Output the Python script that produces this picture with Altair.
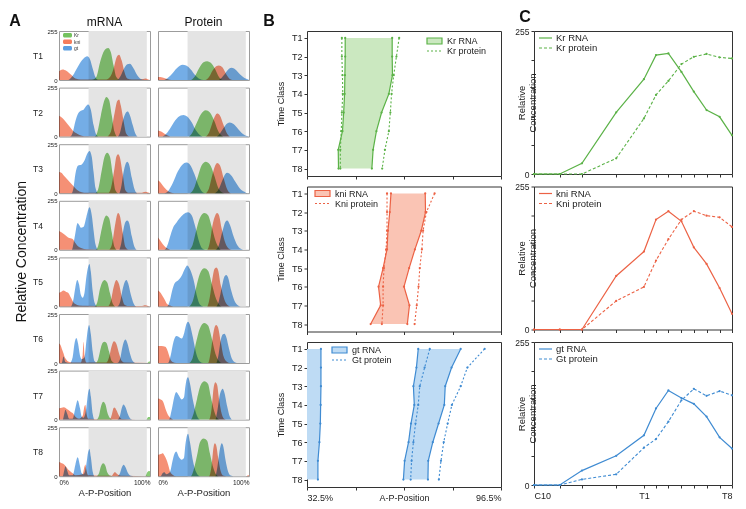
import altair as alt
import pandas as pd

FONT = "Liberation Sans"

# ---------------- Panel A: profiles (A-P position %, relative concentration 0-255)
KR_MRNA = {
 "T1": [(0,0),(36,0),(41,15),(45,90),(50,155),(54,167),(57,145),(60,75),(63,15),(67,0),(100,0)],
 "T2": [(0,0),(39,0),(42,20),(46,110),(50,190),(52,206),(55,190),(58,110),(61,25),(64,0),(100,0)],
 "T3": [(0,0),(40,0),(43,20),(47,120),(50,190),(53,211),(56,190),(59,100),(62,15),(65,0),(100,0)],
 "T4": [(0,0),(40,0),(43,20),(47,110),(50,165),(52,179),(55,165),(58,90),(61,15),(64,0),(100,0)],
 "T5": [(0,0),(39,0),(42,20),(45,90),(48,130),(50,138),(53,125),(56,70),(59,15),(62,0),(100,0)],
 "T6": [(0,0),(40,0),(43,20),(46,80),(48,105),(50,110),(52,105),(55,60),(58,10),(61,0),(97,0),(99,8),(100,8)],
 "T7": [(0,0),(41,0),(44,20),(46,65),(48.5,93),(51,80),(53,40),(56,8),(59,0),(96,0),(98,14),(100,14)],
 "T8": [(0,0),(41,0),(44,15),(46,50),(48.5,68),(51,55),(53,20),(56,3),(59,0),(95,0),(97,20),(99,27),(100,25)],
}
KNI_MRNA = {
 "T1": [(0,45),(4,55),(8,48),(13,28),(18,8),(24,2),(52,2),(56,15),(60,60),(63,115),(66,132),(69,100),(72,40),(75,8),(80,2),(90,3),(95,8),(98,3),(100,0)],
 "T2": [(0,108),(4,95),(8,74),(12,50),(15,32),(20,15),(25,5),(30,2),(53,2),(57,25),(61,120),(64,185),(66,193),(68,160),(71,80),(74,15),(77,2),(100,0)],
 "T3": [(0,110),(3,105),(5,93),(8,78),(10,68),(15,42),(20,17),(25,5),(30,2),(54,2),(57,25),(61,130),(63,190),(65,203),(67,185),(70,100),(73,15),(76,2),(90,2),(95,8),(98,3),(100,0)],
 "T4": [(0,98),(3,90),(6,80),(10,64),(15,56),(18,35),(20,22),(25,8),(30,3),(55,2),(58,25),(62,140),(64,185),(65,191),(67,175),(70,90),(73,15),(76,2),(100,0)],
 "T5": [(0,71),(3,78),(5,83),(8,75),(10,71),(13,46),(16,20),(18,12),(22,5),(30,3),(54,2),(57,30),(60,100),(63,138),(66,115),(69,50),(72,8),(75,2),(90,2),(95,6),(98,2),(100,0)],
 "T6": [(0,101),(2,90),(3,76),(5,50),(6,34),(8,18),(10,8),(15,3),(24,3),(26,40),(27,110),(28,40),(30,3),(52,3),(55,30),(58,90),(60.5,113),(63,100),(66,50),(69,10),(72,2),(100,0)],
 "T7": [(0,59),(3,62),(5,64),(8,58),(10,51),(13,40),(15,34),(18,15),(22,5),(26,20),(28,70),(29,76),(30,40),(32,5),(56,2),(58,25),(60,60),(61,63),(63,50),(66,20),(69,3),(100,0)],
 "T8": [(0,74),(3,68),(5,64),(8,48),(10,35),(12,27),(15,15),(18,5),(26,10),(28,50),(29,61),(30,35),(32,5),(58,2),(60,15),(61.5,22),(63,15),(66,5),(70,2),(100,0)],
}
GT_MRNA = {
 "T1": [(0,0),(10,0),(14,15),(19,55),(24,95),(29,120),(31,123),(34,108),(37,60),(40,15),(43,0),(64,0),(67,15),(71,55),(75,82),(78,85),(82,60),(86,25),(90,5),(94,0),(100,0)],
 "T2": [(0,0),(12,0),(15,20),(18,80),(21,120),(24,135),(27,140),(30,160),(32,167),(35,140),(38,60),(41,10),(44,0),(64,0),(67,20),(70,80),(73,120),(75.5,130),(78,110),(81,60),(84,15),(87,0),(100,0)],
 "T3": [(0,0),(14,0),(16,30),(18,100),(21,144),(25,150),(28,170),(31,205),(33.5,220),(36,190),(38,110),(40,30),(43,0),(66,0),(68,25),(71,110),(73,150),(75,164),(77,150),(80,80),(83,20),(86,0),(100,0)],
 "T4": [(0,0),(14,0),(17,60),(20.5,140),(22,130),(24,115),(27,120),(30,170),(33.5,221),(36,180),(38,100),(40,30),(43,0),(66,0),(68,25),(71,110),(73,145),(75,152),(77,140),(80,70),(83,15),(86,0),(100,0)],
 "T5": [(0,0),(13,0),(16,40),(18,100),(20,138),(22,115),(24,60),(26,45),(28,70),(30,150),(32,205),(33.5,220),(35,180),(37,80),(39,20),(42,0),(64,0),(67,20),(70,90),(72,125),(74,138),(76,120),(79,60),(82,15),(85,0),(100,0)],
 "T6": [(0,0),(3,0),(5,34),(7,5),(12,0),(15,30),(17,100),(19,130),(21,100),(23,40),(25,20),(28,30),(30,110),(31.5,170),(33,198),(35,150),(37,60),(39,10),(42,0),(64,0),(67,20),(70,90),(72,118),(73,122),(75,105),(78,50),(81,10),(84,0),(100,0)],
 "T7": [(0,0),(4,0),(6,35),(7,51),(9,30),(11,5),(15,5),(18,60),(20.5,101),(23,60),(25,15),(27,10),(30,60),(32,140),(33.5,160),(35,120),(37,30),(39,0),(64,0),(67,20),(69,60),(71,79),(73,65),(76,25),(79,3),(82,0),(100,0)],
 "T8": [(0,0),(4,0),(6,35),(7,52),(9,30),(11,5),(15,5),(18,60),(20.5,98),(23,55),(25,15),(27,10),(30,60),(32,125),(33.5,142),(35,100),(37,25),(39,0),(64,0),(67,15),(69,45),(71,60),(73,48),(76,15),(79,2),(82,0),(100,0)],
}
KR_PROT = {
 "T1": [(0,0),(36,0),(40,15),(45,60),(50,92),(54,98),(58,90),(63,55),(67,15),(71,0),(100,0)],
 "T2": [(0,0),(33,0),(37,15),(42,65),(47,115),(52.5,137),(57,125),(62,80),(66,30),(70,5),(73,0),(100,0)],
 "T3": [(0,0),(35,0),(39,20),(44,90),(48,145),(52.5,164),(57,150),(62,90),(66,30),(70,5),(73,0),(100,0)],
 "T4": [(0,0),(34,0),(38,25),(42,100),(46,165),(51,191),(55,180),(59,120),(63,50),(67,10),(70,0),(100,0)],
 "T5": [(0,0),(34,0),(38,25),(42,100),(46,170),(51,198),(55,185),(59,120),(63,50),(67,10),(70,0),(100,0)],
 "T6": [(0,0),(34,0),(38,25),(42,110),(46,180),(51,208),(55,195),(59,130),(63,50),(67,10),(70,0),(100,0)],
 "T7": [(0,0),(36,0),(39,30),(43,110),(47,180),(51,199),(55,185),(58,120),(62,40),(65,8),(68,0),(100,0)],
 "T8": [(0,0),(36,0),(39,30),(43,110),(46,175),(50,196),(54,185),(57,120),(61,40),(64,8),(67,0),(100,0)],
}
KNI_PROT = {
 "T1": [(0,15),(5,13),(10,5),(15,0),(52,0),(56,15),(60,50),(64,72),(67,76),(71,65),(75,30),(79,5),(82,0),(100,0)],
 "T2": [(0,32),(4,25),(8,12),(12,3),(15,0),(52,0),(56,20),(60,75),(63,110),(65,120),(68,110),(72,60),(76,15),(80,0),(100,0)],
 "T3": [(0,68),(3,55),(5,42),(8,25),(10,15),(14,3),(18,0),(52,0),(56,25),(60,100),(63,145),(65,157),(68,145),(72,80),(76,20),(80,0),(100,0)],
 "T4": [(0,64),(3,45),(6,25),(8,14),(12,3),(15,0),(54,0),(57,40),(60,130),(63,180),(65,191),(67,180),(70,110),(74,35),(78,5),(81,0),(100,0)],
 "T5": [(0,83),(3,70),(5,54),(8,30),(10,12),(14,3),(17,0),(54,0),(57,50),(60,150),(62,195),(64,203),(66,190),(69,110),(73,35),(77,5),(80,0),(100,0)],
 "T6": [(0,88),(4,88),(8,84),(10,70),(12,42),(14,15),(16,5),(20,0),(55,0),(58,60),(61,160),(63,195),(64,198),(66,185),(69,110),(72,35),(76,5),(79,0),(100,0)],
 "T7": [(0,110),(3,105),(5,98),(7,75),(8,59),(10,35),(12,17),(15,5),(18,0),(56,0),(59,60),(61,160),(63,194),(65,180),(67,110),(70,30),(73,3),(76,0),(100,0)],
 "T8": [(0,111),(3,115),(5,120),(8,100),(10,78),(12,45),(13,27),(16,8),(20,0),(56,0),(59,60),(61,150),(62.5,171),(64,160),(66,100),(69,25),(72,2),(75,0),(97,0),(99,5),(100,5)],
}
GT_PROT = {
 "T1": [(0,0),(6,0),(10,8),(15,30),(21,62),(27,79),(31,75),(36,55),(41,25),(46,5),(50,0),(66,0),(69,8),(74,35),(78,58),(81,64),(85,55),(90,30),(95,10),(99,2),(100,0)],
 "T2": [(0,0),(4,0),(8,10),(13,40),(19,85),(25,110),(28,113),(32,105),(37,75),(42,30),(47,5),(51,0),(64,0),(67,10),(72,45),(76,68),(79,74),(83,65),(88,40),(93,15),(98,3),(100,0)],
 "T3": [(0,0),(7,0),(11,10),(16,50),(22,115),(27,150),(31,160),(35,150),(40,100),(45,35),(49,5),(52,0),(62,0),(66,15),(71,70),(74,100),(76,106),(80,95),(85,60),(90,25),(95,7),(98,0),(100,0)],
 "T4": [(0,0),(7,0),(10,20),(14,80),(17,120),(20,140),(24,165),(28,185),(33,196),(37,180),(41,120),(45,45),(49,5),(52,0),(63,0),(67,25),(71,100),(74,145),(76,152),(79,130),(83,70),(87,25),(91,5),(94,0),(100,0)],
 "T5": [(0,0),(10,0),(13,30),(16,90),(18.5,122),(22,135),(26,160),(30,200),(32,213),(35,195),(39,140),(43,50),(46,10),(50,0),(64,0),(67,30),(71,120),(73,155),(75,164),(77,150),(80,90),(84,30),(88,5),(91,0),(100,0)],
 "T6": [(0,0),(11,0),(14,40),(17,110),(20,140),(23,135),(26,127),(29,160),(31,200),(33,215),(35,200),(38,140),(42,50),(46,8),(50,0),(64,0),(66,30),(69,120),(71,148),(73,152),(75,135),(78,75),(81,25),(85,3),(88,0),(100,0)],
 "T7": [(0,0),(12,0),(15,50),(18,120),(20,144),(23,125),(26,105),(28.5,115),(30,170),(31.5,210),(33,220),(35,190),(38,110),(42,30),(46,0),(63,0),(65,40),(68,130),(70,155),(71,160),(73,140),(76,70),(79,15),(82,0),(100,0)],
 "T8": [(0,0),(3,0),(5,15),(7,20),(9,10),(13,20),(16,80),(18,115),(20,128),(23,100),(26,86),(28.5,95),(30,160),(31.5,205),(33,221),(35,180),(38,90),(42,20),(46,0),(63,0),(65,40),(68,140),(70,171),(72,150),(74,90),(77,25),(80,3),(83,0),(100,0)],
}
SHADE = [32.5, 96.5]
TIME_CLASSES = ["T1", "T2", "T3", "T4", "T5", "T6", "T7", "T8"]

# ---------------- Panel B: expression domain borders (A-P position %)
T_NUM = [1, 2, 3, 4, 5, 6, 7, 8]
KR_RNA_L = [45.1, 45.1, 45.0, 44.9, 44.6, 44.2, 42.8, 42.9]
KR_RNA_R = [60.6, 60.6, 60.7, 59.5, 57.1, 55.4, 54.3, 53.9]
KR_PROT_L = [44.0, 44.0, 44.2, 44.3, 44.0, 43.8, 43.5, 43.5]
KR_PROT_R = [62.9, 62.0, 61.1, 60.4, 60.0, 59.5, 58.2, 57.3]
KNI_RNA_L = [60.2, 59.8, 59.2, 58.9, 57.6, 56.1, 56.8, 53.5]
KNI_RNA_R = [71.5, 71.6, 70.2, 68.1, 66.2, 64.5, 66.3, 65.6]
KNI_PROT_L = [58.9, 58.9, 58.9, 58.6, 57.9, 57.6, 57.6, 57.2]
KNI_PROT_R = [74.6, 71.9, 70.8, 70.4, 69.7, 69.3, 68.7, 68.0]
GT_RNA_ANT = [37.1, 37.1, 37.1, 37.0, 36.9, 36.6, 36.1, 36.1]
GT_RNA_L = [69.2, 68.6, 67.6, 67.9, 66.8, 66.0, 64.7, 64.3]
GT_RNA_R = [83.2, 80.2, 78.1, 77.8, 75.9, 74.0, 72.5, 72.4]
GT_PROT_L = [73.0, 71.3, 69.7, 69.2, 68.3, 67.6, 67.0, 66.7]
GT_PROT_R = [91.1, 85.4, 83.2, 80.3, 78.9, 77.6, 76.7, 76.0]
B_TICKS = [32.5, 48.5, 64.5, 80.5, 96.5]

# ---------------- Panel C: peak concentration over time
C_TIME = [0, 79, 147, 252, 337, 374, 412, 452, 490, 529, 569, 607]
KR_RNA_C = [0, 0, 19, 110, 169, 212, 215, 182, 147, 114, 102, 69]
KR_PROT_C = [0, 0, 0, 28, 99, 141, 166, 196, 209, 214, 208, 206]
KNI_RNA_C = [0, 0, 0, 95.5, 139, 196, 211, 193, 146.5, 117, 74, 28]
KNI_PROT_C = [0, 0, 0, 51, 76, 123, 161, 196, 211, 203, 200, 183]
GT_RNA_C = [0, 0, 25.7, 52, 88.7, 136.5, 168.6, 155, 144.7, 122, 85, 65]
GT_PROT_C = [0, 0, 10, 19, 66.5, 82, 113, 151, 171.5, 159, 167.5, 160]
C_YTICKS = [0, 51, 102, 153, 204, 255]

# colours
A_GREEN, A_RED, A_BLUE, A_GRAY = "#74c25e", "#f47d5d", "#5c9fe2", "#e4e4e4"
G_LINE, G_FILL = "#5bb247", "#cbe8c0"
R_LINE, R_FILL = "#ec6245", "#fac4b4"
B_LINE, B_FILL = "#3f8bd2", "#bedbf4"

ONE = pd.DataFrame({"a": [0]})


def label(txt, x, y, size, weight="normal", angle=0, align="center", color="#111"):
    return alt.Chart(ONE).mark_text(fontSize=size, fontWeight=weight, font=FONT, angle=angle,
                                    align=align, baseline="middle", color=color).encode(
        x=alt.value(x), y=alt.value(y), text=alt.value(txt))


# ---------------- Panel A
AW, AH = 91, 49
xs_a = alt.Scale(domain=[0, 100], nice=False, zero=False)
ys_a = alt.Scale(domain=[0, 255], nice=False)


def a_panel(kind, i):
    t = TIME_CLASSES[i]
    mrna = kind == "mRNA"
    last = i == 7
    if last:
        xaxis = alt.Axis(values=[0, 100], labelExpr="datum.value + '%'", labelFlush=True,
                         ticks=False, domain=False, grid=False, labelFontSize=6.5,
                         labelPadding=3, title="A-P-Position", titleFontSize=9.5,
                         titleFontWeight="normal", titlePadding=2)
    else:
        xaxis = None
    if mrna:
        yaxis = alt.Axis(values=[0, 255], ticks=False, domain=False, grid=False, labelFontSize=6,
                         labelPadding=2, title=t, titleAngle=0, titleX=-21.5, titleY=AH / 2,
                         titleAlign="center", titleBaseline="middle", titleFontSize=8.5,
                         titleFontWeight="normal")
    else:
        yaxis = None
    shade = alt.Chart(pd.DataFrame({"x0": [SHADE[0]], "x1": [SHADE[1]]})).mark_rect(
        color=A_GRAY).encode(
        x=alt.X("x0:Q", scale=xs_a, axis=xaxis), x2="x1:Q",
        y=alt.YDatum(0, type="quantitative", scale=ys_a, axis=yaxis), y2=alt.Y2Datum(255))
    layers = [shade]
    src = [(GT_MRNA, GT_PROT, A_BLUE), (KR_MRNA, KR_PROT, A_GREEN), (KNI_MRNA, KNI_PROT, A_RED)]
    for dm, dp, col in src:
        pts = (dm if mrna else dp)[t]
        df = pd.DataFrame(pts, columns=["x", "y"])
        layers.append(alt.Chart(df).mark_area(interpolate="monotone", color=col, opacity=0.85,
                                              blend="multiply").encode(
            x=alt.X("x:Q", scale=xs_a, axis=xaxis),
            y=alt.Y("y:Q", scale=ys_a, axis=yaxis, stack=None)))
    if i == 0:
        layers.append(label(kind, AW / 2, -9, 12))
    if mrna and i == 0:
        for k, (name, col) in enumerate([("Kr", A_GREEN), ("kni", A_RED), ("gt", A_BLUE)]):
            layers.append(alt.Chart(ONE).mark_rect(color=col, cornerRadius=1.5).encode(
                x=alt.value(4), x2=alt.value(13), y=alt.value(2 + 6.5 * k), y2=alt.value(6.5 + 6.5 * k)))
            layers.append(label(name, 15, 4.3 + 6.5 * k, 5, align="left", color="#333"))
        layers.append(label("A", -44, -10, 16, weight="bold"))
    if mrna and i == 3:
        layers.append(label("Relative Concentration", -37, 51, 14, angle=270))
    return alt.layer(*layers).properties(width=AW, height=AH,
                                         view=alt.ViewBackground(stroke="#9c9c9c", strokeWidth=1))


a_charts = []
for i in range(8):
    a_charts.append(a_panel("mRNA", i))
    a_charts.append(a_panel("Protein", i))
A = alt.concat(*a_charts, columns=2, spacing={"row": 7.6, "column": 8}, bounds="flush")

# ---------------- Panel B
BW, BH = 194, 145
xs_b = alt.Scale(domain=[32.5, 96.5], nice=False, zero=False)
ys_b = alt.Scale(domain=[0.63, 8.4], nice=False, zero=False, reverse=True)


def b_panel(rl, rr, pl, pr, lc, fc, names, leg, bottom, ant=None, letter=False):
    xaxis = alt.Axis(values=B_TICKS,
                     labelExpr="datum.value == 32.5 ? '32.5%' : datum.value == 96.5 ? '96.5%' : datum.value == 64.5 ? 'A-P-Position' : ''",
                     labelFlush=True, labelOverlap=False, labels=bottom, tickSize=3, grid=False,
                     domain=False, title=None, labelFontSize=9, labelPadding=3)
    yaxis = alt.Axis(values=T_NUM, labelExpr="'T' + datum.value", title="Time Class",
                     titleFontSize=9, titleFontWeight="normal", labelFontSize=9, tickSize=3,
                     grid=False, domain=False, labelPadding=2, titlePadding=6)
    X = lambda f: alt.X(f, scale=xs_b, axis=xaxis)
    Y = alt.Y("t:Q", scale=ys_b, axis=yaxis)
    layers = []
    area_df = pd.DataFrame({"t": T_NUM, "l": rl, "r": rr})
    layers.append(alt.Chart(area_df).mark_area(orient="horizontal", color=fc).encode(
        y=Y, x=X("l:Q"), x2="r:Q"))
    rna = pd.concat([pd.DataFrame({"t": T_NUM, "x": rl, "s": "l"}),
                     pd.DataFrame({"t": T_NUM, "x": rr, "s": "r"})])
    if ant is not None:
        ant_df = pd.DataFrame({"t": T_NUM, "r": ant})
        layers.append(alt.Chart(ant_df).mark_area(orient="horizontal", color=fc).encode(
            y=Y, x=X("r:Q"), x2=alt.X2Datum(32.5)))
        rna = pd.concat([rna, pd.DataFrame({"t": T_NUM, "x": ant, "s": "a"})])
    prot = pd.concat([pd.DataFrame({"t": T_NUM, "x": pl, "s": "l"}),
                      pd.DataFrame({"t": T_NUM, "x": pr, "s": "r"})])
    pt = alt.OverlayMarkDef(filled=True, size=5, color=lc)
    layers.append(alt.Chart(rna).mark_line(color=lc, strokeWidth=1.2, point=pt).encode(
        x=X("x:Q"), y=Y, detail="s:N", order="t:Q"))
    layers.append(alt.Chart(prot).mark_line(color=lc, strokeWidth=1.1, strokeDash=[2, 2],
                                            point=pt).encode(
        x=X("x:Q"), y=Y, detail="s:N", order="t:Q"))
    lx, ly = leg
    layers.append(alt.Chart(ONE).mark_rect(fill=fc, stroke=lc, strokeWidth=1.2).encode(
        x=alt.value(lx), x2=alt.value(lx + 15), y=alt.value(ly - 3), y2=alt.value(ly + 3)))
    layers.append(alt.Chart(ONE).mark_rule(color=lc, strokeDash=[2, 2], strokeWidth=1.1).encode(
        x=alt.value(lx), x2=alt.value(lx + 15), y=alt.value(ly + 10)))
    for k, nm in enumerate(names):
        layers.append(label(nm, lx + 20, ly + 10 * k, 9, align="left", color="#222"))
    if letter:
        layers.append(label("B", -38, -10, 16, weight="bold"))
    return alt.layer(*layers).properties(width=BW, height=BH)


b1 = b_panel(KR_RNA_L, KR_RNA_R, KR_PROT_L, KR_PROT_R, G_LINE, G_FILL,
             ["Kr RNA", "Kr protein"], (120, 10), False, letter=True)
b2 = b_panel(KNI_RNA_L, KNI_RNA_R, KNI_PROT_L, KNI_PROT_R, R_LINE, R_FILL,
             ["kni RNA", "Kni protein"], (8, 7), False)
b3 = b_panel(GT_RNA_L, GT_RNA_R, GT_PROT_L, GT_PROT_R, B_LINE, B_FILL,
             ["gt RNA", "Gt protein"], (25, 8), True, ant=GT_RNA_ANT)
B = alt.vconcat(b1, b2, b3, spacing=10.5, bounds="flush")

# ---------------- Panel C
CW, CH = 198, 143
xs_c = alt.Scale(domain=[0, 607], nice=False, zero=False)
ys_c = alt.Scale(domain=[0, 255], nice=False)


def c_panel(rna, prot, lc, names, bottom, letter=False):
    xaxis = alt.Axis(values=C_TIME,
                     labelExpr="datum.value == 0 ? 'C10' : datum.value == 337 ? 'T1' : datum.value == 607 ? 'T8' : ''",
                     labelFlush=True, labelOverlap=False, labels=bottom, tickSize=3, grid=False,
                     domain=False, title=None, labelFontSize=9, labelPadding=3)
    yaxis = alt.Axis(values=C_YTICKS,
                     labelExpr="datum.value == 0 || datum.value == 255 ? datum.label : ''",
                     labelOverlap=False, tickSize=3, grid=False, domain=False, labelFontSize=8.5,
                     labelPadding=2, title=["Relative", "Concentration"], titleFontSize=9.5,
                     titleFontWeight="normal", titleLineHeight=11, titleX=-13, titleY=CH / 2,
                     titleAlign="center", titleBaseline="middle", titleAngle=270)
    df_r = pd.DataFrame({"time": C_TIME, "v": rna})
    df_p = pd.DataFrame({"time": C_TIME, "v": prot})
    pt = alt.OverlayMarkDef(filled=True, size=5, color=lc)
    enc = dict(x=alt.X("time:Q", scale=xs_c, axis=xaxis), y=alt.Y("v:Q", scale=ys_c, axis=yaxis))
    layers = [
        alt.Chart(df_r).mark_line(color=lc, strokeWidth=1.2, point=pt).encode(**enc),
        alt.Chart(df_p).mark_line(color=lc, strokeWidth=1.1, strokeDash=[3, 2], point=pt).encode(**enc),
        alt.Chart(ONE).mark_rule(color=lc, strokeWidth=1.2).encode(
            x=alt.value(5), x2=alt.value(18), y=alt.value(7)),
        alt.Chart(ONE).mark_rule(color=lc, strokeWidth=1.1, strokeDash=[3, 2]).encode(
            x=alt.value(5), x2=alt.value(18), y=alt.value(17)),
    ]
    for k, nm in enumerate(names):
        layers.append(label(nm, 22, 7 + 10 * k, 9.5, align="left", color="#222"))
    if letter:
        layers.append(label("C", -9, -14, 16, weight="bold"))
    return alt.layer(*layers).properties(width=CW, height=CH)


c1 = c_panel(KR_RNA_C, KR_PROT_C, G_LINE, ["Kr RNA", "Kr protein"], False, letter=True)
c2 = c_panel(KNI_RNA_C, KNI_PROT_C, R_LINE, ["kni RNA", "Kni protein"], False)
c3 = c_panel(GT_RNA_C, GT_PROT_C, B_LINE, ["gt RNA", "Gt protein"], True)
C = alt.vconcat(c1, c2, c3, spacing=12.5, bounds="flush")

chart = alt.hconcat(A, B, C, spacing=12).properties(padding=0).configure(
    font=FONT).configure_axis(labelFont=FONT, titleFont=FONT, labelColor="#222",
                              titleColor="#222", tickColor="#333").configure_view(
    stroke="#333", strokeWidth=1)

chart.save("out.html", embed_options={"renderer": "svg", "actions": False})
